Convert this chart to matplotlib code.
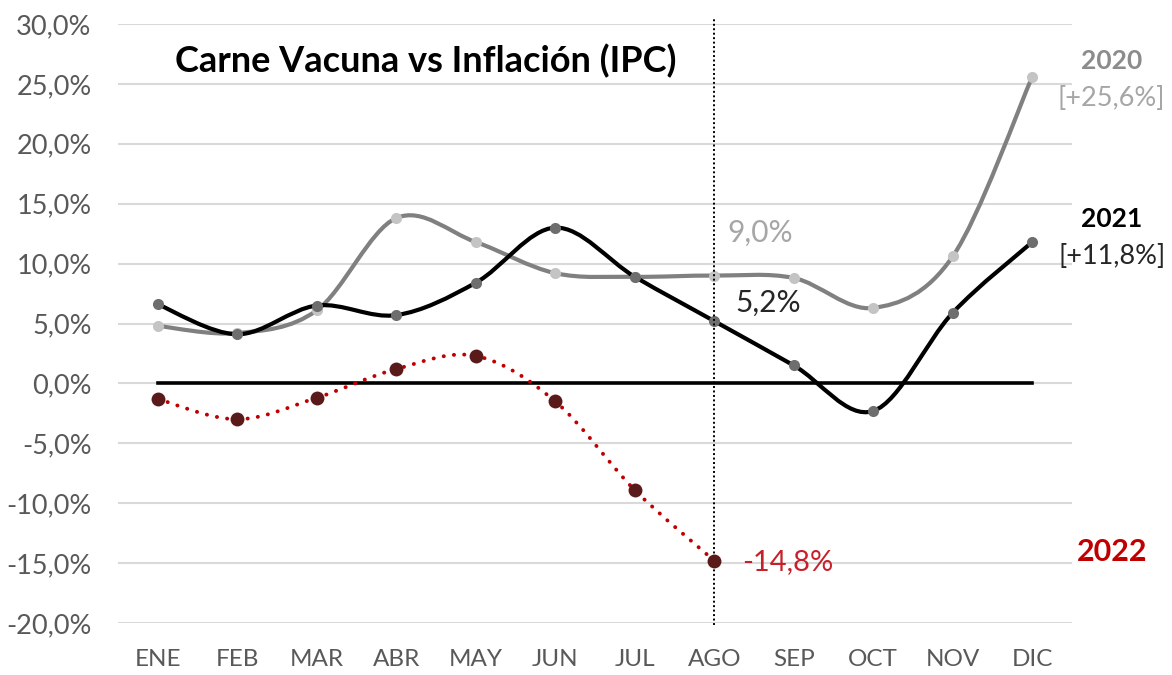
import matplotlib
matplotlib.use("Agg")
import matplotlib.pyplot as plt
from matplotlib.path import Path
from matplotlib.patches import PathPatch
import numpy as np

plt.rcParams["font.family"] = ["Lato", "DejaVu Sans"]

months = ["ENE", "FEB", "MAR", "ABR", "MAY", "JUN",
          "JUL", "AGO", "SEP", "OCT", "NOV", "DIC"]
y2020 = [4.8, 4.2, 6.1, 13.8, 11.8, 9.2, 8.9, 9.0, 8.8, 6.3, 10.6, 25.6]
y2021 = [6.6, 4.1, 6.5, 5.7, 8.4, 13.0, 8.9, 5.2, 1.5, -2.3, 5.9, 11.8]
y2022 = [-1.3, -3.0, -1.2, 1.2, 2.3, -1.5, -8.9, -14.8]
yticks = [-20, -15, -10, -5, 0, 5, 10, 15, 20, 25, 30]

C_GRID = "#d9d9d9"
C_TICK = "#595959"
C_2020 = "#808080"
C_2020_MK = "#c4c4c4"
C_2021 = "#000000"
C_2021_MK = "#6e6e6e"
C_2022 = "#c00000"
C_2022_MK = "#5a1a1a"


def smooth_path(xs, ys):
    # Excel-style smoothed line: cubic Bezier through every point
    pts = np.column_stack([xs, ys]).astype(float)
    n = len(pts)
    verts = [pts[0]]
    codes = [Path.MOVETO]
    for i in range(n - 1):
        p0 = pts[i - 1] if i > 0 else pts[i]
        p1, p2 = pts[i], pts[i + 1]
        p3 = pts[i + 2] if i + 2 < n else pts[i + 1]
        c1 = p1 + (p2 - p0) / 6.0
        c2 = p2 - (p3 - p1) / 6.0
        verts += [c1, c2, p2]
        codes += [Path.CURVE4] * 3
    return Path(verts, codes)


def draw_series(ax, ys, color, mcolor, lw, ms, ls="-", z=3):
    xs = np.arange(len(ys))
    patch = PathPatch(smooth_path(xs, ys), fill=False, edgecolor=color,
                      lw=lw, linestyle=ls, zorder=z)
    if ls != "-":
        patch.set_capstyle("round")
    ax.add_patch(patch)
    ax.plot(xs, ys, "o", color=mcolor, ms=ms, mec="none", zorder=z + 0.5)


fig = plt.figure(figsize=(11.72, 6.75), dpi=100)
ax = fig.add_axes([118 / 1172, 1 - 623 / 675, 954 / 1172, 599 / 675])

x = np.arange(len(months))
ax.set_xlim(-0.5, 11.5)
ax.set_ylim(-20, 30)
ax.set_yticks(yticks)
ax.set_yticklabels([f"{v:.1f}%".replace(".", ",") for v in yticks])
ax.set_xticks(x)
ax.set_xticklabels(months)
ax.tick_params(length=0, colors=C_TICK)
ax.tick_params(axis="y", labelsize=19.5, pad=19)
ax.tick_params(axis="x", labelsize=17.5, pad=19)
for s in ax.spines.values():
    s.set_visible(False)
ax.grid(axis="y", color=C_GRID, lw=1.5, zorder=0)
ax.set_axisbelow(True)

# zero reference line
ax.plot(x, np.zeros(len(x)), color="black", lw=2.6, zorder=2)

# current month marker
ax.plot([7, 7], [-20.2, 30.5], color="black", lw=1.4, ls=(0, (1, 1.3)),
        clip_on=False, zorder=5)

draw_series(ax, y2020, C_2020, C_2020_MK, 3.0, 8, z=3)
draw_series(ax, y2021, C_2021, C_2021_MK, 3.0, 8, z=4)
draw_series(ax, y2022, C_2022, C_2022_MK, 2.8, 10, ls=(0, (0.05, 2.6)), z=6)

ax.text(0.22, 26.9, "Carne Vacuna vs Inflación (IPC)", fontsize=26,
        fontweight="bold", color="black", va="center", ha="left")

ax.text(7.16, 12.6, "9,0%", fontsize=21.5, color="#a6a6a6", va="center")
ax.text(7.26, 6.75, "5,2%", fontsize=21.5, color="#262626", va="center")
ax.text(7.35, -14.9, "-14,8%", fontsize=21, color="#c8202a", va="center")

ax.text(12.0, 26.9, "2020", fontsize=19, fontweight="bold",
        color="#8c8c8c", ha="center", va="center", clip_on=False)
ax.text(12.0, 23.75, "[+25,6%]", fontsize=19.5, color="#a6a6a6",
        ha="center", va="center", clip_on=False)
ax.text(12.0, 13.75, "2021", fontsize=19, fontweight="bold",
        color="black", ha="center", va="center", clip_on=False)
ax.text(12.0, 10.6, "[+11,8%]", fontsize=19.5, color="#262626",
        ha="center", va="center", clip_on=False)
ax.text(12.0, -14.1, "2022", fontsize=22, fontweight="bold",
        color="#c00000", ha="center", va="center", clip_on=False)

fig.savefig("out.png", dpi=100, facecolor="white")
